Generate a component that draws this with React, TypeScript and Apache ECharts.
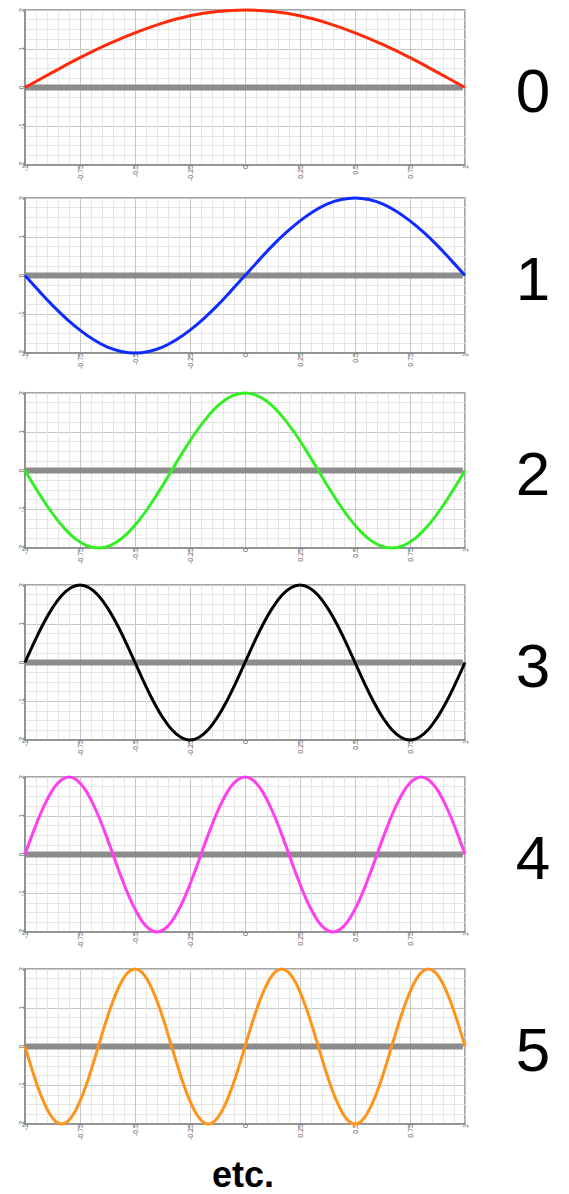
import React, { useEffect, useRef } from "react";
import * as echarts from "echarts";

// Panel modes (labels on the right)
const panelLabels = ["0", "1", "2", "3", "4", "5"];
const curveColors = ["#ff2a0a", "#0f2cff", "#33ee22", "#000000", "#ff3ff0", "#ff9419"];

// x axis ticks
const xMin = -1;
const xMax = 1;
const xInterval = 0.25;
// y axis ticks
const yMin = -2;
const yMax = 2;
const yInterval = 1;

// Sampled curve values, uniformly spaced from x = -1 to x = 1
const mode0 = [0, 0.39, 0.77, 1.11, 1.41, 1.66, 1.85, 1.96, 2, 1.96, 1.85, 1.66, 1.41, 1.11, 0.77, 0.39, 0];
const mode1 = [
  0, -0.39, -0.77, -1.11, -1.41, -1.66, -1.85, -1.96, -2, -1.96, -1.85, -1.66, -1.41, -1.11, -0.77, -0.39,
  0, 0.39, 0.77, 1.11, 1.41, 1.66, 1.85, 1.96, 2, 1.96, 1.85, 1.66, 1.41, 1.11, 0.77, 0.39, 0,
];
const mode2 = [
  0, -0.52, -1, -1.41, -1.73, -1.93, -2, -1.93, -1.73, -1.41, -1, -0.52,
  0, 0.52, 1, 1.41, 1.73, 1.93, 2, 1.93, 1.73, 1.41, 1, 0.52,
  0, -0.52, -1, -1.41, -1.73, -1.93, -2, -1.93, -1.73, -1.41, -1, -0.52, 0,
];
const mode3 = [
  0, 0.52, 1, 1.41, 1.73, 1.93, 2, 1.93, 1.73, 1.41, 1, 0.52,
  0, -0.52, -1, -1.41, -1.73, -1.93, -2, -1.93, -1.73, -1.41, -1, -0.52,
  0, 0.52, 1, 1.41, 1.73, 1.93, 2, 1.93, 1.73, 1.41, 1, 0.52,
  0, -0.52, -1, -1.41, -1.73, -1.93, -2, -1.93, -1.73, -1.41, -1, -0.52, 0,
];
const mode4 = [
  0, 0.52, 1, 1.41, 1.73, 1.93, 2, 1.93, 1.73, 1.41, 1, 0.52,
  0, -0.52, -1, -1.41, -1.73, -1.93, -2, -1.93, -1.73, -1.41, -1, -0.52,
  0, 0.52, 1, 1.41, 1.73, 1.93, 2, 1.93, 1.73, 1.41, 1, 0.52,
  0, -0.52, -1, -1.41, -1.73, -1.93, -2, -1.93, -1.73, -1.41, -1, -0.52,
  0, 0.52, 1, 1.41, 1.73, 1.93, 2, 1.93, 1.73, 1.41, 1, 0.52, 0,
];
const mode5 = [
  0, -0.52, -1, -1.41, -1.73, -1.93, -2, -1.93, -1.73, -1.41, -1, -0.52,
  0, 0.52, 1, 1.41, 1.73, 1.93, 2, 1.93, 1.73, 1.41, 1, 0.52,
  0, -0.52, -1, -1.41, -1.73, -1.93, -2, -1.93, -1.73, -1.41, -1, -0.52,
  0, 0.52, 1, 1.41, 1.73, 1.93, 2, 1.93, 1.73, 1.41, 1, 0.52,
  0, -0.52, -1, -1.41, -1.73, -1.93, -2, -1.93, -1.73, -1.41, -1, -0.52,
  0, 0.52, 1, 1.41, 1.73, 1.93, 2, 1.93, 1.73, 1.41, 1, 0.52, 0,
];
const modes = [mode0, mode1, mode2, mode3, mode4, mode5];

// Grey zero baseline
const baselineX = [-1, 0.99];
const baselineY = [0, 0];

const footerText = "etc.";

const TOPS = [10, 198, 393, 585, 777, 969];
const GRID_LEFT = 25;
const GRID_W = 440;
const GRID_H = 155;
const FONT = "'Liberation Sans', Arial, Helvetica, sans-serif";

function toPairs(vals: number[]) {
  const n = vals.length;
  return vals.map((v, i) => [xMin + ((xMax - xMin) * i) / (n - 1), v]);
}

export default function App() {
  const ref = useRef<HTMLDivElement>(null);

  useEffect(() => {
    document.body.style.margin = "0";
    if (!ref.current) return;
    const chart = echarts.init(ref.current, undefined, { renderer: "svg" });

    const grid = TOPS.map((top) => ({
      left: GRID_LEFT,
      top,
      width: GRID_W,
      height: GRID_H,
      show: true,
      borderColor: "#8a8a8a",
      borderWidth: 1.5,
      backgroundColor: "transparent",
    }));

    const labelStyle = {
      rotate: 90,
      fontSize: 7,
      color: "#555",
      margin: 0,
      fontFamily: FONT,
      showMinLabel: true,
      showMaxLabel: true,
    };

    const xAxis = TOPS.map((_, i) => ({
      type: "value",
      gridIndex: i,
      min: xMin,
      max: xMax,
      interval: xInterval,
      axisLine: { show: true, onZero: false, lineStyle: { color: "#8a8a8a", width: 1.5 } },
      axisTick: { show: false },
      axisLabel: labelStyle,
      splitLine: { show: true, lineStyle: { color: "#c6c6c6", width: 1 } },
      minorTick: { show: false, splitNumber: 5 },
      minorSplitLine: { show: true, lineStyle: { color: "#e6e6e6", width: 1 } },
    }));

    const yAxis = TOPS.map((_, i) => ({
      type: "value",
      gridIndex: i,
      min: yMin,
      max: yMax,
      interval: yInterval,
      axisLine: { show: true, onZero: false, lineStyle: { color: "#8a8a8a", width: 1.5 } },
      axisTick: { show: false },
      axisLabel: labelStyle,
      splitLine: { show: true, lineStyle: { color: "#c6c6c6", width: 1 } },
      minorTick: { show: false, splitNumber: 4 },
      minorSplitLine: { show: true, lineStyle: { color: "#e6e6e6", width: 1 } },
    }));

    const series: any[] = [];
    TOPS.forEach((_, i) => {
      series.push({
        type: "line",
        xAxisIndex: i,
        yAxisIndex: i,
        data: baselineX.map((x, k) => [x, baselineY[k]]),
        symbol: "none",
        lineStyle: { color: "#8c8c8c", width: 6, cap: "butt" },
        z: 2,
        silent: true,
      });
      series.push({
        type: "line",
        xAxisIndex: i,
        yAxisIndex: i,
        data: toPairs(modes[i]),
        smooth: 0.4,
        symbol: "none",
        clip: false,
        lineStyle: { color: curveColors[i], width: 3 },
        z: 3,
      });
    });

    const graphic: any[] = TOPS.map((top, i) => ({
      type: "text",
      x: 533,
      y: top + GRID_H / 2 + 3,
      style: {
        text: panelLabels[i],
        font: `normal 62px ${FONT}`,
        fill: "#000",
        align: "center",
        verticalAlign: "middle",
      },
    }));
    graphic.push({
      type: "text",
      x: 243,
      y: 1174,
      style: {
        text: footerText,
        font: `bold 36px ${FONT}`,
        fill: "#000",
        align: "center",
        verticalAlign: "middle",
      },
    });

    chart.setOption({
      animation: false,
      backgroundColor: "#fff",
      grid,
      xAxis,
      yAxis,
      series,
      graphic,
    });

    return () => chart.dispose();
  }, []);

  return <div ref={ref} style={{ width: 569, height: 1194 }} />;
}
